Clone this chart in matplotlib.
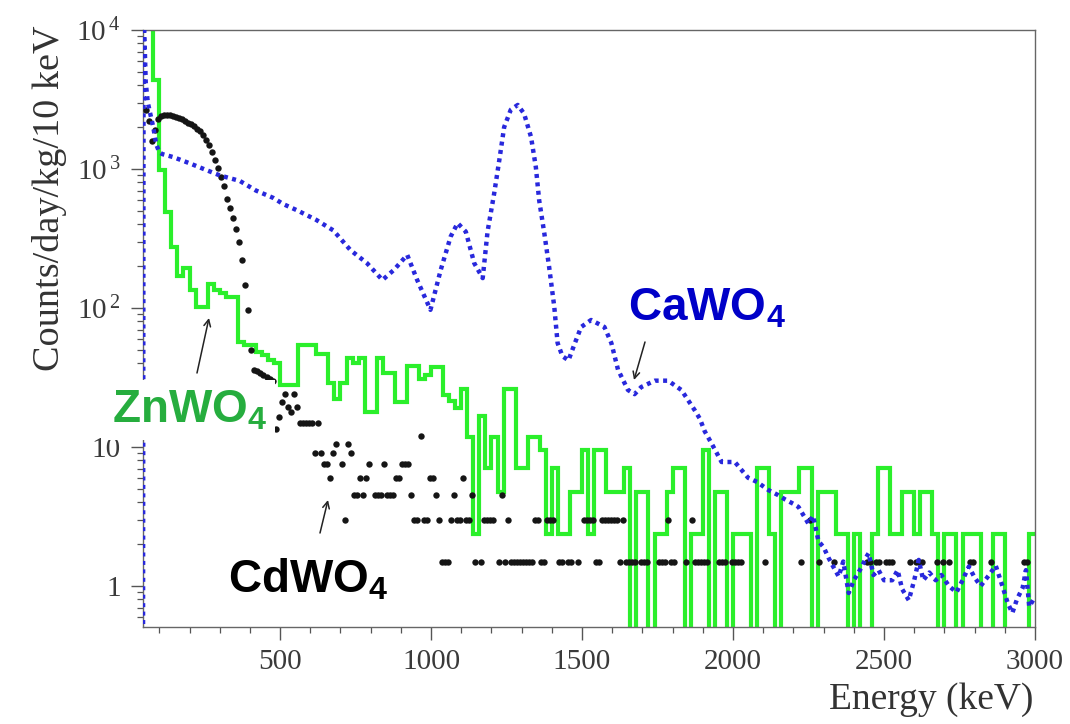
import numpy as np
import matplotlib
matplotlib.use("Agg")
import matplotlib.pyplot as plt
from matplotlib.ticker import MultipleLocator, LogLocator, NullFormatter, FixedLocator, FixedFormatter

plt.rcParams['mathtext.default'] = 'regular'

# ---------------- data ----------------
# CaWO4 (blue dotted curve): energy (keV), rate (counts/day/kg/10 keV)
ca_energy = [46, 48, 55, 62, 70, 80, 90, 100, 110, 145, 200, 257, 300, 367, 420, 477, 510,
             560, 620, 676, 733, 788, 839, 877, 921, 954, 998, 1032, 1065, 1088, 1115,
             1143, 1171, 1187, 1209, 1226, 1242, 1264, 1287, 1308, 1331, 1347, 1358,
             1375, 1391, 1408, 1419, 1435, 1455, 1475, 1497, 1530, 1574, 1597, 1619,
             1652, 1674, 1696, 1741, 1785, 1829, 1873, 1890, 1906, 1929, 1962, 2006,
             2050, 2080, 2117, 2150, 2172, 2200, 2217, 2250, 2265, 2283, 2300, 2316,
             2330, 2350, 2365, 2383, 2400, 2427, 2440, 2449, 2465, 2482, 2500, 2527,
             2545, 2560, 2582, 2600, 2615, 2630, 2650, 2671, 2690, 2715, 2740, 2760,
             2781, 2800, 2820, 2848, 2870, 2892, 2910, 2925, 2940, 2959, 2970, 2981, 2995]
ca_rate = [0.2, 15000, 4200, 3000, 2500, 2000, 1500, 1320, 1280, 1220, 1100, 980, 900, 820,
           700, 620, 560, 500, 430, 362, 261, 210, 159, 188, 241, 159, 97, 188, 327, 408,
           354, 210, 164, 354, 668, 1160, 2000, 2670, 2890, 2500, 1700, 1030, 595, 345,
           197, 102, 56, 45, 42, 55, 73, 82, 73, 56, 36, 25.7, 24, 27, 30, 30, 25.7,
           18.4, 16, 13, 10.6, 7.8, 7.8, 6.0, 5.6, 4.9, 4.5, 4.2, 3.9, 3.7, 2.8, 3.2,
           2.1, 1.9, 1.6, 1.4, 1.17, 1.5, 0.89, 1.1, 1.38, 1.6, 1.72, 1.2, 1.3, 1.1,
           1.1, 1.3, 0.95, 0.79, 1.1, 1.54, 1.1, 1.25, 1.1, 1.2, 1.0, 0.9, 1.1, 1.38,
           1.15, 1.0, 1.2, 1.4, 1.0, 0.75, 0.64, 0.8, 0.97, 1.3, 0.71, 0.8]

# ZnWO4 (green histogram, 20 keV bins starting at 40 keV)
zn_bin_start = 40
zn_bin_width = 20
zn_low_rate = [20000, 20000, 4400, 980, 490, 275, 170, 195, 135, 102,
               102, 150, 135, 128, 120, 120, 57, 54, 54, 48,
               46, 42, 40, 28, 28, 28, 54, 54, 54, 47,
               47, 29, 22, 29, 44, 40, 44, 18, 18, 44,
               34, 34, 21, 21, 38, 38, 31, 33]          # 40 .. 1000 keV
zn_rate_per_count = 2.37
zn_high_counts = [16, 16, 10, 9, 8, 11, 5, 1, 7, 3,        # 1000 .. 3000 keV
                  5, 2, 11, 11, 3, 3, 5, 5, 4, 1,
                  3, 1, 1, 2, 2, 4, 1, 4, 4, 2,
                  2, 2, 3, 0, 2, 2, 0, 1, 1, 2,
                  3, 3, 0, 1, 1, 4, 0, 2, 2, 0,
                  1, 1, 1, 0, 3, 3, 1, 0, 2, 2,
                  2, 3, 3, 0, 2, 2, 2, 1, 1, 0,
                  1, 0, 0, 1, 3, 3, 1, 1, 2, 2,
                  1, 2, 2, 1, 0, 1, 1, 0, 1, 1,
                  1, 0, 0, 1, 1, 0, 0, 0, 0, 1]

# CdWO4 (black dots, 10 keV bins)
cd_curve_energy = list(range(55, 400, 10))
cd_curve_rate = [2660, 2200, 1580, 1900, 2300, 2400, 2450, 2450, 2450, 2420, 2380, 2330,
                 2280, 2220, 2150, 2100, 2030, 1950, 1880, 1750, 1620, 1480, 1330, 1170,
                 1020, 880, 750, 610, 520, 445, 370, 300, 220, 146, 97]
cd_tail_energy = [405, 415, 425, 435, 445, 455, 465, 475, 485, 495, 505, 515, 525, 535, 545,
                  555, 565, 575, 585, 595, 605, 615, 625, 635, 645, 655, 665, 675, 685, 705,
                  715, 725, 735, 745, 755, 765, 775, 785, 795, 815, 825, 835, 845, 855, 865,
                  875, 885, 895, 905, 915, 925, 935, 945, 955, 965, 975, 985, 995, 1005,
                  1015, 1025, 1035, 1045, 1055, 1065, 1075, 1085, 1095, 1105, 1115, 1125,
                  1135, 1145, 1165, 1175, 1185, 1195, 1205, 1225, 1235, 1245, 1255, 1265,
                  1275, 1285, 1295, 1305, 1315, 1325, 1335, 1345, 1355, 1365, 1375, 1385,
                  1395, 1405, 1425, 1435, 1455, 1465, 1485, 1505, 1515, 1525, 1535, 1545,
                  1555, 1565, 1575, 1585, 1595, 1605, 1615, 1625, 1635, 1645, 1655, 1665,
                  1675, 1695, 1705, 1715, 1755, 1765, 1775, 1785, 1795, 1805, 1845, 1865,
                  1875, 1885, 1895, 1905, 1915, 1955, 1965, 1975, 1995, 2005, 2015, 2025,
                  2105, 2225, 2255, 2285, 2335, 2445, 2455, 2475, 2485, 2505, 2515, 2525,
                  2585, 2605, 2615, 2625, 2675, 2695, 2715, 2785, 2795, 2855, 2965, 2975]
cd_tail_rate = [50, 36, 35, 34, 33, 32, 31, 30, 13.5, 16.5, 21, 24, 19.5, 18, 24,
                19.5, 15, 15, 15, 15, 15, 9, 15, 9, 7.5, 7.5, 6, 9, 10.5, 7.5,
                3.0, 10.5, 9, 4.5, 4.5, 6, 4.5, 6, 7.5, 4.5, 4.5, 4.5, 7.5, 4.5, 4.5,
                4.5, 6, 6, 7.5, 7.5, 7.5, 4.5, 3.0, 3.0, 12, 3.0, 3.0, 6, 6,
                4.5, 3.0, 1.5, 1.5, 1.5, 3.0, 4.5, 3.0, 3.0, 6, 3.0, 3.0,
                4.5, 1.5, 1.5, 3.0, 3.0, 3.0, 3.0, 1.5, 4.5, 1.5, 3.0, 1.5,
                1.5, 1.5, 1.5, 1.5, 1.5, 1.5, 1.5, 3.0, 3.0, 1.5, 1.5, 3.0,
                3.0, 3.0, 1.5, 1.5, 1.5, 1.5, 1.5, 3.0, 3.0, 3.0, 3.0, 1.5,
                1.5, 3.0, 3.0, 3.0, 3.0, 3.0, 3.0, 1.5, 3.0, 1.5, 1.5, 1.5,
                1.5, 1.5, 1.5, 1.5, 1.5, 1.5, 1.5, 3.0, 1.5, 1.5, 1.5, 3.0,
                1.5, 1.5, 1.5, 1.5, 1.5, 1.5, 1.5, 1.5, 1.5, 1.5, 1.5, 1.5,
                1.5, 1.5, 3.0, 1.5, 1.5, 1.5, 1.5, 1.5, 1.5, 1.5, 1.5, 1.5,
                1.5, 1.5, 1.5, 1.5, 1.5, 1.5, 1.5, 1.5, 1.5, 1.5, 1.5, 1.5]

x_ticks = [500, 1000, 1500, 2000, 2500, 3000]
x_tick_labels = ['500', '1000', '1500', '2000', '2500', '3000']
y_ticks = [1, 10, 100, 1000, 10000]
y_tick_labels = ['1', '10', r'$10^{\,2}$', r'$10^{\,3}$', r'$10^{\,4}$']

# ---------------- figure ----------------
W, H = 1070, 724
fig = plt.figure(figsize=(W / 100, H / 100), dpi=100)
fig.patch.set_facecolor('white')
ax = fig.add_axes([143 / W, 1 - 627 / H, (1035 - 143) / W, (627 - 30) / H])

serif = 'Liberation Serif'
sans = 'Liberation Sans'

# ZnWO4 histogram
zn_rate = np.array(zn_low_rate + [c * zn_rate_per_count for c in zn_high_counts], dtype=float)
zn_edges = zn_bin_start + zn_bin_width * np.arange(len(zn_rate) + 1)
zn_plot = np.where(zn_rate > 0, zn_rate, 0.05)
ax.stairs(zn_plot, zn_edges, baseline=None, color='#2bef2b', lw=3.0, zorder=2)

# CdWO4 dots
ax.plot(cd_curve_energy + cd_tail_energy, cd_curve_rate + cd_tail_rate, 'o',
        color='#151515', markersize=4.6, markeredgewidth=0, zorder=3)

# CaWO4 dotted curve
ax.plot(ca_energy, ca_rate, color='#2828dc', lw=3.2, linestyle=(0, (0.9, 1.0)),
        dash_capstyle='butt', zorder=4)

ax.set_yscale('log')
ax.set_xlim(46, 3000)
ax.set_ylim(0.507, 1e4)

ax.xaxis.set_major_locator(FixedLocator(x_ticks))
ax.xaxis.set_major_formatter(FixedFormatter(x_tick_labels))
ax.xaxis.set_minor_locator(MultipleLocator(100))
ax.yaxis.set_major_locator(FixedLocator(y_ticks))
ax.yaxis.set_major_formatter(FixedFormatter(y_tick_labels))
ax.yaxis.set_minor_locator(LogLocator(base=10, subs=np.arange(2, 10)))
ax.yaxis.set_minor_formatter(NullFormatter())

for s in ax.spines.values():
    s.set_color('#666666')
    s.set_linewidth(1.0)

ax.tick_params(which='major', direction='out', length=9, width=1.0, color='#555555',
               labelsize=21, labelcolor='#3a3a3a', pad=7)
ax.tick_params(which='minor', direction='out', length=4.5, width=0.9, color='#555555')
ax.tick_params(top=False, right=False)
for lab in ax.get_xticklabels() + ax.get_yticklabels():
    lab.set_fontfamily(serif)

# axis labels
fig.text(50 / W, 1 - 198 / H, 'Counts/day/kg/10 keV', rotation=90, ha='center', va='center',
         fontsize=27.5, family=serif, color='#333333')
fig.text(1033 / W, 1 - 700 / H, 'Energy (keV)', ha='right', va='center',
         fontsize=27, family=serif, color='#333333')

# crystal labels with white boxes
box = dict(facecolor='white', edgecolor='none', pad=6)
fig.text(628 / W, 1 - 320 / H, r'CaWO$_{4}$', ha='left', va='baseline', fontsize=33,
         family=sans, weight='bold', color='#0000c8', bbox=box, zorder=10)
fig.text(112 / W, 1 - 422 / H, r'ZnWO$_{4}$', ha='left', va='baseline', fontsize=33,
         family=sans, weight='bold', color='#26ad3e', bbox=box, zorder=10)
fig.text(228 / W, 1 - 592 / H, r'CdWO$_{4}$', ha='left', va='baseline', fontsize=33,
         family=sans, weight='bold', color='#000000', bbox=box, zorder=10)

arrow = dict(arrowstyle='->', color='#222222', lw=1.1, shrinkA=0, shrinkB=0,
             mutation_scale=12)
for (hx, hy, tx, ty) in [(209, 318, 197, 373), (328, 500, 320, 533), (634, 380, 645, 342)]:
    ax.annotate('', xy=(hx / W, 1 - hy / H), xytext=(tx / W, 1 - ty / H),
                xycoords='figure fraction', textcoords='figure fraction',
                arrowprops=arrow, zorder=11, annotation_clip=False)

fig.savefig('out.png', dpi=100)
